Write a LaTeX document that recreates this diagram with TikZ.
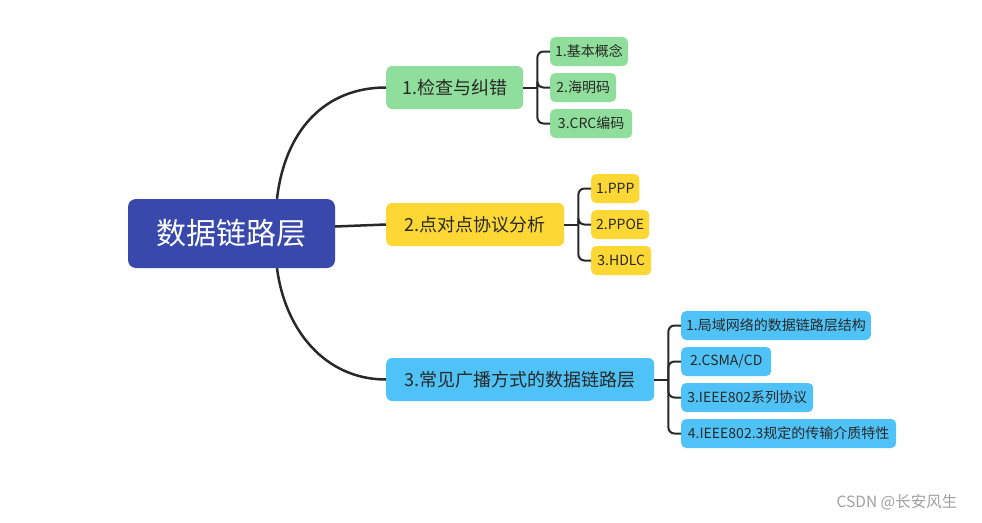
\documentclass[tikz,border=0pt]{standalone}
\usepackage{fontspec}
\newfontfamily\cjk{Noto Sans CJK SC}
\definecolor{rootblue}{RGB}{57,73,171}
\definecolor{topicgreen}{RGB}{143,222,155}
\definecolor{topicyellow}{RGB}{253,216,53}
\definecolor{topicblue}{RGB}{79,195,247}
\definecolor{inkgrey}{RGB}{40,40,40}
\definecolor{markgrey}{RGB}{160,160,160}
\tikzset{
  root/.style={fill=rootblue, rounded corners=8pt, minimum width=207pt, minimum height=69pt,
    text=white, font=\cjk\fontsize{30}{34}\selectfont},
  topic/.style={rounded corners=6pt, minimum height=43pt, inner xsep=16pt, anchor=west,
    text=inkgrey, font=\cjk\fontsize{18}{21}\selectfont},
  leaf/.style={rounded corners=5pt, minimum height=29pt, inner xsep=5pt, anchor=west,
    text=inkgrey, font=\cjk\fontsize{14}{16}\selectfont},
  branch/.style={draw=inkgrey, line width=2.5pt},
  bracket/.style={draw=inkgrey, line width=2pt, rounded corners=6pt}
}
\begin{document}
\begin{tikzpicture}[x=1pt,y=-1pt]
  \useasboundingbox[fill=white] (0,0) rectangle (982,522);
  % root and topics
  \node[root] (dll) at (231.5,233.5) {数据链路层};
  \node[topic, fill=topicgreen, minimum width=137pt] (check) at (386,87.5) {1.检查与纠错};
  \node[topic, fill=topicyellow, minimum width=178pt] (p2p) at (386,224.5) {2.点对点协议分析};
  \node[topic, fill=topicblue, minimum width=268pt] (bcast) at (386,379.5) {3.常见广播方式的数据链路层};
  % leaves of check
  \node[leaf, fill=topicgreen, minimum width=77pt] (basic) at (550,51.5) {1.基本概念};
  \node[leaf, fill=topicgreen, minimum width=66pt] (hamming) at (550,87.5) {2.海明码};
  \node[leaf, fill=topicgreen, minimum width=82pt] (crc) at (550,123.5) {3.CRC编码};
  % leaves of p2p
  \node[leaf, fill=topicyellow, minimum width=46pt] (ppp) at (591,188.5) {1.PPP};
  \node[leaf, fill=topicyellow, minimum width=56pt] (ppoe) at (591,224.5) {2.PPOE};
  \node[leaf, fill=topicyellow, minimum width=60pt] (hdlc) at (591,260.5) {3.HDLC};
  % leaves of bcast
  \node[leaf, fill=topicblue, minimum width=188pt] (lan) at (681,325.5) {1.局域网络的数据链路层结构};
  \node[leaf, fill=topicblue, minimum width=90pt] (csma) at (681,361.5) {2.CSMA/CD};
  \node[leaf, fill=topicblue, minimum width=132pt] (ieee) at (681,397.5) {3.IEEE802系列协议};
  \node[leaf, fill=topicblue, minimum width=215pt] (media) at (681,433.5) {4.IEEE802.3规定的传输介质特性};
  % watermark
  \node[text=markgrey, font=\cjk\fontsize{15.5}{18}\selectfont] (mark) at (897,502) {CSDN @长安风生};
  % branches from root
  \draw[branch] ([xshift=45.5pt]dll.north) .. controls (285,130) and (325,87.5) .. (check.west);
  \draw[branch] ([yshift=7pt]dll.east) .. controls (360,225) .. (p2p.west);
  \draw[branch] ([xshift=45.5pt]dll.south) .. controls (285,330) and (325,379.5) .. (bcast.west);
  % brackets
  \coordinate (jcheck) at ([xshift=14pt]check.east);
  \coordinate (jp2p) at ([xshift=14pt]p2p.east);
  \coordinate (jbcast) at ([xshift=14pt]bcast.east);
  \draw[bracket] (check.east) -- (jcheck);
  \draw[bracket] (p2p.east) -- (jp2p);
  \draw[bracket] (bcast.east) -- (jbcast);
  \foreach \leafname in {basic,hamming,crc}
    \draw[bracket] (jcheck) |- (\leafname.west);
  \foreach \leafname in {ppp,ppoe,hdlc}
    \draw[bracket] (jp2p) |- (\leafname.west);
  \foreach \leafname in {lan,csma,ieee,media}
    \draw[bracket] (jbcast) |- (\leafname.west);
\end{tikzpicture}
\end{document}
